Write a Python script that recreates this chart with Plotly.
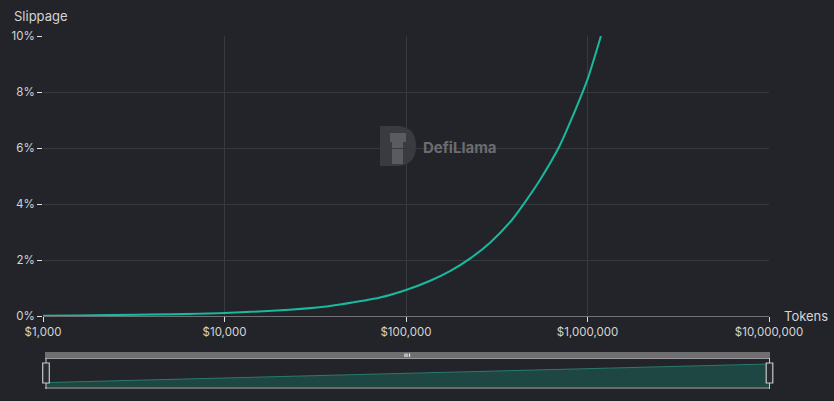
import plotly.graph_objects as go

# ---- data ----
amounts = [1000, 10000, 32400, 43300, 71900, 100000, 135000, 174700, 225000,
           290500, 374000, 425000, 547000, 705000, 831000, 1000000, 1186000]
slippage = [0.01, 0.11, 0.30, 0.41, 0.66, 0.93, 1.25, 1.6, 2.05,
            2.62, 3.35, 3.82, 4.86, 6.1, 7.15, 8.45, 10.0]

x_tickvals = [1000, 10000, 100000, 1000000, 10000000]
x_ticktext = ["$1,000", "$10,000", "$100,000", "$1,000,000", "$10,000,000"]
y_tickvals = [0, 2, 4, 6, 8, 10]
y_ticktext = ["0%", "2%", "4%", "6%", "8%", "10%"]

# overview (data-zoom) mini chart, read from the slider strip
slider_pos = [0, 0.5, 1]
slider_level = [0.18, 0.49, 0.80]

# ---- layout helpers (pixel -> paper) ----
W, H = 834, 401
ML, MR, MT, MB = 43, 65, 36, 0
PW, PH = W - ML - MR, H - MT - MB


def px(x):
    return (x - ML) / PW


def py(y):
    return (H - y) / PH


BG = "#232429"
GRID = "#38393e"
AXIS = "#707176"
TXT = "#d4d4d6"
LINE = "#19b99f"
FONT = "Inter"

fig = go.Figure()
fig.add_trace(go.Scatter(
    x=amounts, y=slippage, mode="lines",
    line=dict(color=LINE, width=2, shape="spline", smoothing=0.7),
    hoverinfo="skip", showlegend=False, xaxis="x", yaxis="y"))

fig.add_trace(go.Scatter(
    x=slider_pos, y=slider_level, mode="lines", fill="tozeroy",
    fillcolor="#1e4642", line=dict(color="#2b7a6f", width=1),
    hoverinfo="skip", showlegend=False, xaxis="x2", yaxis="y2"))

shapes = []
# slider top bar
shapes.append(dict(type="rect", xref="paper", yref="paper",
                   x0=px(45), x1=px(770), y0=py(358), y1=py(352),
                   fillcolor="#6f6f72", line=dict(width=0), layer="below"))
shapes.append(dict(type="line", xref="paper", yref="paper",
                   x0=px(45), x1=px(770), y0=py(358.5), y1=py(358.5),
                   line=dict(color="#9a9a9d", width=1)))
# slider bottom line
shapes.append(dict(type="line", xref="paper", yref="paper",
                   x0=px(45), x1=px(770), y0=py(388), y1=py(388),
                   line=dict(color="#6a6a6d", width=2)))
# grip marks
for gx in (405, 407, 409.5):
    shapes.append(dict(type="line", xref="paper", yref="paper",
                       x0=px(gx), x1=px(gx), y0=py(357), y1=py(353.5),
                       line=dict(color="#e8e8e8", width=1.2)))
# handles
for hx in (46, 769.5):
    shapes.append(dict(type="line", xref="paper", yref="paper",
                       x0=px(hx), x1=px(hx), y0=py(389), y1=py(358),
                       line=dict(color="#c8c8ca", width=1)))
    shapes.append(dict(type="rect", xref="paper", yref="paper",
                       x0=px(hx - 3.3), x1=px(hx + 3.3), y0=py(383), y1=py(363),
                       fillcolor="#2a2b30", line=dict(color="#c8c8ca", width=1.2)))

# watermark logo (approximate D-shaped llama badge)
shapes.append(dict(type="path", xref="paper", yref="paper",
                   path=("M {a},{b} L {c},{b} Q {d},{b} {d},{e} Q {d},{f} {c},{f} L {a},{f} Z"
                         .format(a=px(380), b=py(126), c=px(396), d=px(416),
                                 e=py(146), f=py(166))),
                   fillcolor="#3a3b40", line=dict(width=0), layer="below"))
shapes.append(dict(type="path", xref="paper", yref="paper",
                   path=("M {a},{b} L {c},{b} L {c},{d} L {e},{d} L {e},{f} L {g},{f} L {g},{h} L {a},{h} Z"
                         .format(a=px(392), b=py(164), c=px(403), d=py(142),
                                 e=px(406), f=py(133), g=px(390), h=py(142))),
                   fillcolor="#5a5b60", line=dict(width=0), layer="below"))

annotations = [
    dict(text="Slippage", xref="paper", yref="paper", x=px(12), y=py(16),
         xanchor="left", yanchor="middle", showarrow=False,
         font=dict(family=FONT, size=13, color=TXT)),
    dict(text="Tokens", xref="paper", yref="paper", x=px(782), y=py(316),
         xanchor="left", yanchor="middle", showarrow=False,
         font=dict(family=FONT, size=13, color=TXT)),
    dict(text="<b>DefiLlama</b>", xref="paper", yref="paper", x=px(421), y=py(147),
         xanchor="left", yanchor="middle", showarrow=False,
         font=dict(family=FONT, size=15, color="#6b6c70")),
]

fig.update_layout(
    template="none",
    width=W, height=H,
    margin=dict(l=ML, r=MR, t=MT, b=MB, autoexpand=False),
    paper_bgcolor=BG, plot_bgcolor=BG,
    font=dict(family=FONT, size=12, color=TXT),
    showlegend=False,
    shapes=shapes, annotations=annotations,
    xaxis=dict(type="log", range=[3, 7], tickvals=x_tickvals, ticktext=x_ticktext,
               showgrid=True, gridcolor=GRID, gridwidth=1,
               showline=True, linecolor=AXIS, linewidth=1,
               ticks="outside", ticklen=5, tickcolor="#e0e0e0",
               tickfont=dict(family=FONT, size=11.5, color=TXT),
               zeroline=False, anchor="y", domain=[0, 1], fixedrange=True,
               automargin=False),
    yaxis=dict(range=[0, 10], tickvals=y_tickvals, ticktext=y_ticktext,
               showgrid=True, gridcolor=GRID, gridwidth=1,
               showline=False, ticks="outside", ticklen=5, tickcolor="#e0e0e0",
               tickfont=dict(family=FONT, size=11.5, color=TXT),
               zeroline=False, domain=[py(316), 1], anchor="x", fixedrange=True,
               automargin=False),
    xaxis2=dict(range=[0, 1], domain=[px(45.5), 1], anchor="y2",
                visible=False, fixedrange=True, automargin=False),
    yaxis2=dict(range=[0, 1], domain=[py(388), py(358)], anchor="x2",
                visible=False, fixedrange=True, automargin=False),
)

fig.write_html("out.html")
